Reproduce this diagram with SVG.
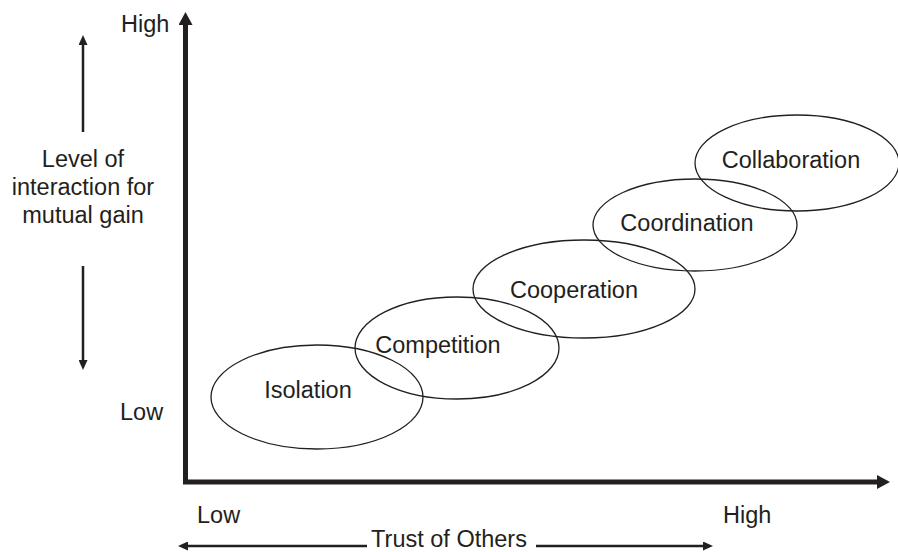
<svg xmlns="http://www.w3.org/2000/svg" width="898" height="552" viewBox="0 0 898 552">
<style>
text{font-family:"Liberation Sans",Arial,sans-serif;font-size:23.5px;fill:#231f20}
.m{text-anchor:middle}
.e{fill:none;stroke:#231f20;stroke-width:1.3}
.ax{stroke:#231f20;stroke-width:5;fill:none}
.ar{stroke:#231f20;stroke-width:2.5;fill:none}
</style>
<defs>
<marker id="big" viewBox="0 0 13 14" refX="5" refY="7" markerWidth="13" markerHeight="14" orient="auto" markerUnits="userSpaceOnUse"><path d="M0,0L13,7L0,14z" fill="#231f20"/></marker>
<marker id="sm" viewBox="0 0 10 9" refX="4" refY="4.5" markerWidth="10" markerHeight="9" orient="auto" markerUnits="userSpaceOnUse"><path d="M0,0L10,4.5L0,9z" fill="#231f20"/></marker>
</defs>
<g id="connectors">
<path class="ax" d="M185.5,484V20" marker-end="url(#big)"/>
<path class="ax" d="M183,482H882" marker-end="url(#big)"/>
<path class="ar" d="M83,132V41" marker-end="url(#sm)"/>
<path class="ar" d="M83,266V364" marker-end="url(#sm)"/>
<path class="ar" d="M367,546H184" marker-end="url(#sm)"/>
<path class="ar" d="M536,546H707" marker-end="url(#sm)"/>
</g>
<g id="axis-labels">
<text x="121" y="32">High</text>
<text x="120" y="420">Low</text>
<text class="m" x="83" y="167">Level of</text>
<text class="m" x="83" y="195">interaction for</text>
<text class="m" x="83" y="223">mutual gain</text>
<text x="197" y="523">Low</text>
<text x="723" y="523">High</text>
<text class="m" x="449" y="547">Trust of Others</text>
</g>
<g id="isolation"><ellipse class="e" cx="317" cy="397" rx="106" ry="52"/><text class="m" x="308" y="398">Isolation</text></g>
<g id="competition"><ellipse class="e" cx="457" cy="348" rx="102" ry="51"/><text class="m" x="438" y="353">Competition</text></g>
<g id="cooperation"><ellipse class="e" cx="584" cy="289" rx="111" ry="49"/><text class="m" x="574" y="298">Cooperation</text></g>
<g id="coordination"><ellipse class="e" cx="695" cy="225" rx="102" ry="46"/><text class="m" x="687" y="231">Coordination</text></g>
<g id="collaboration"><ellipse class="e" cx="797" cy="163" rx="102" ry="48"/><text class="m" x="791" y="168">Collaboration</text></g>
</svg>
